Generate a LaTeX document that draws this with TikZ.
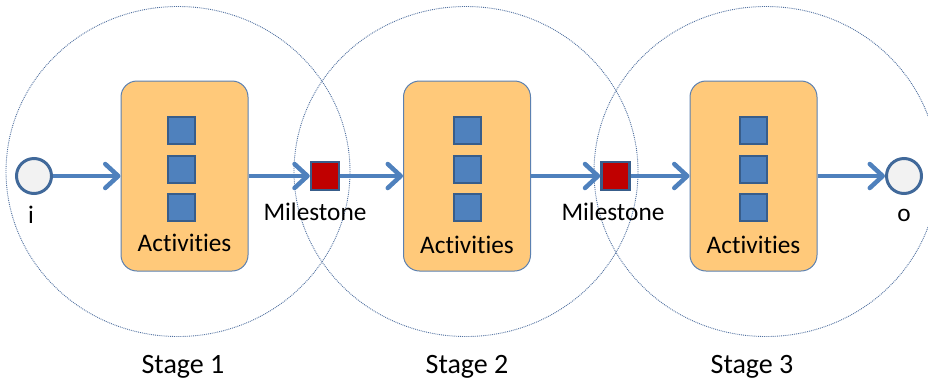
\documentclass[tikz,border=0pt]{standalone}
\usepackage{fontspec}
\setmainfont[Ligatures={NoCommon}]{Carlito}
\usetikzlibrary{arrows.meta,positioning}

\definecolor{flowblue}{HTML}{4F81BD}
\definecolor{sqfill}{HTML}{4F81BD}
\definecolor{sqdraw}{HTML}{385D8A}
\definecolor{boxfill}{HTML}{FFC97A}
\definecolor{boxdraw}{HTML}{5B80B0}
\definecolor{msfill}{HTML}{C00000}
\definecolor{endfill}{HTML}{F2F2F2}
\definecolor{enddraw}{HTML}{41699A}
\definecolor{stagecol}{HTML}{4F6F9F}

\tikzset{
  stageline/.style={draw=stagecol, line width=0.9pt, densely dotted},
  flow/.style={draw=flowblue, line width=4.5pt,
    -{Straight Barb[length=13pt, width=24pt, line cap=round, line join=round]}},
  endpoint/.style={circle, fill=endfill, draw=enddraw, line width=3pt,
    minimum size=35pt, inner sep=0pt},
  stagebox/.style={rectangle, rounded corners=16pt, fill=boxfill, draw=boxdraw,
    line width=1pt, minimum width=127pt, minimum height=190pt, inner sep=0pt},
  activity/.style={rectangle, fill=sqfill, draw=sqdraw, line width=2pt,
    minimum size=27pt, inner sep=0pt},
  milestone/.style={rectangle, fill=msfill, draw=sqdraw, line width=2.5pt,
    minimum size=28pt, inner sep=0pt},
  lbl/.style={font=\fontsize{25.3}{30}\selectfont, inner sep=0pt, text=black},
  caption/.style={font=\fontsize{28}{33}\selectfont, inner sep=0pt, text=black},
}

\begin{document}
\begin{tikzpicture}[x=1pt, y=-1pt]
  \useasboundingbox (0,0) rectangle (928,381);
  \clip (0,0) rectangle (928,381);

  % stage boundaries
  \draw[stageline] (178,171.5) ellipse [x radius=172, y radius=165];
  \draw[stageline] (466,171.5) ellipse [x radius=172, y radius=165];
  \draw[stageline] (766,171.5) ellipse [x radius=172, y radius=165];

  % start and end events
  \node[endpoint] (start) at (34,176) {};
  \node[endpoint] (finish) at (904,176) {};
  \node[lbl] (ilbl) at (31,215) {i};
  \node[lbl] (olbl) at (904,215) {o};

  % stage containers with their activities
  \node[stagebox] (box1) at (184.5,176) {};
  \node[stagebox] (box2) at (467,176) {};
  \node[stagebox] (box3) at (753.5,176) {};

  \foreach \b/\x in {1/181.5, 2/467.5, 3/753.5}{
    \node[activity] (act\b a) at (\x,130.5) {};
    \node[activity] (act\b b) at (\x,169) {};
    \node[activity] (act\b c) at (\x,207.5) {};
  }
  \node[lbl] (alab1) at (184.5,243) {Activities};
  \node[lbl] (alab2) at (467,245) {Activities};
  \node[lbl] (alab3) at (753.5,245) {Activities};

  % milestones between stages
  \node[milestone] (ms1) at (325,176) {};
  \node[milestone] (ms2) at (615.5,176) {};
  \node[lbl] (mlab1) at (315,212) {Milestone};
  \node[lbl] (mlab2) at (613,212) {Milestone};

  % stage captions
  \node[caption] (st1) at (183,367) {Stage 1};
  \node[caption] (st2) at (467,367) {Stage 2};
  \node[caption] (st3) at (752,367) {Stage 3};

  % control flow
  \draw[flow] (start) -- (box1);
  \draw[flow] (box1) -- (ms1);
  \draw[flow] (ms1) -- (box2);
  \draw[flow] (box2) -- (ms2);
  \draw[flow] (ms2) -- (box3);
  \draw[flow] (box3) -- (finish);
\end{tikzpicture}
\end{document}
